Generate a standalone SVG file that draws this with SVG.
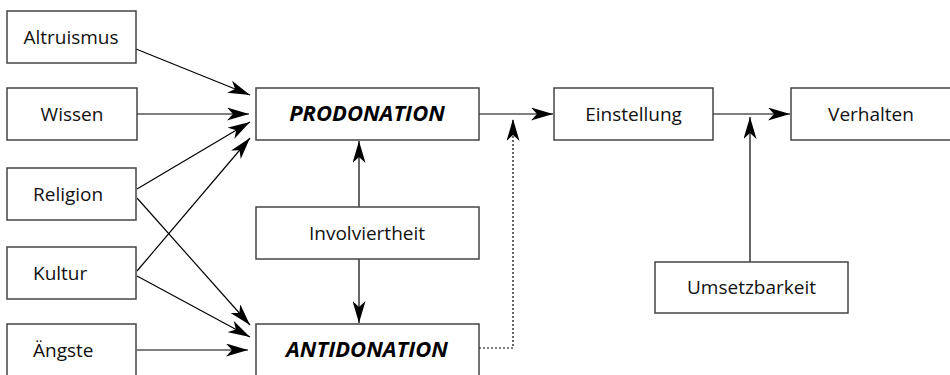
<svg xmlns="http://www.w3.org/2000/svg" width="950" height="375" viewBox="0 0 950 375">
<defs>
<style>
.box{fill:#fff;stroke:#444;stroke-width:1.5}
.t{font-family:"Open Sans","DejaVu Sans",sans-serif;font-size:19px;fill:#111}
.tb{font-family:"Open Sans","DejaVu Sans",sans-serif;font-size:22px;font-weight:bold;font-style:italic;fill:#000;text-anchor:middle}
.c{text-anchor:middle}
.ln{fill:none;stroke:#000;stroke-width:1.2;marker-end:url(#ah)}
.dot{fill:none;stroke:#000;stroke-width:1.2;stroke-dasharray:2 2;marker-end:url(#ah)}
</style>
<marker id="ah" markerUnits="userSpaceOnUse" markerWidth="22" markerHeight="13" refX="22" refY="6.5" orient="auto" viewBox="0 0 22 13">
<path d="M0,0 L22,6.5 L0,13 L6,6.5 z" fill="#000"/>
</marker>
</defs>
<rect width="950" height="375" fill="#fff"/>
<g id="connectors">
<line class="ln" x1="136" y1="49" x2="250" y2="95"/>
<line class="ln" x1="137" y1="114" x2="249" y2="114"/>
<line class="ln" x1="137" y1="189" x2="250" y2="122"/>
<line class="ln" x1="137" y1="271" x2="250" y2="138"/>
<line class="ln" x1="137" y1="198" x2="250" y2="325"/>
<line class="ln" x1="137" y1="276" x2="250" y2="337"/>
<line class="ln" x1="137" y1="350" x2="248" y2="350"/>
<line class="ln" x1="359" y1="207" x2="359" y2="141"/>
<line class="ln" x1="359" y1="259" x2="359" y2="323"/>
<line class="ln" x1="479" y1="114" x2="553" y2="114"/>
<path class="dot" d="M479,348 H513 V119"/>
<line class="ln" x1="713" y1="114" x2="790" y2="114"/>
<line class="ln" x1="750" y1="262" x2="750" y2="117"/>
</g>
<g id="altruismus"><rect class="box" x="7" y="11" width="129" height="52"/><text class="t c" x="71" y="44">Altruismus</text></g>
<g id="wissen"><rect class="box" x="7" y="88" width="130" height="52"/><text class="t c" x="72" y="121">Wissen</text></g>
<g id="religion"><rect class="box" x="7" y="168" width="129" height="52"/><text class="t" x="33" y="201">Religion</text></g>
<g id="kultur"><rect class="box" x="7" y="247" width="129" height="52"/><text class="t" x="33" y="280">Kultur</text></g>
<g id="aengste"><rect class="box" x="7" y="324" width="129" height="52"/><text class="t" x="33" y="357">Ängste</text></g>
<g id="prodonation"><rect class="box" x="256" y="88" width="223" height="52"/><text class="tb" x="367" y="121">PRODONATION</text></g>
<g id="involviertheit"><rect class="box" x="256" y="207" width="223" height="52"/><text class="t c" x="367" y="240">Involviertheit</text></g>
<g id="antidonation"><rect class="box" x="256" y="324" width="223" height="52"/><text class="tb" x="367" y="357">ANTIDONATION</text></g>
<g id="einstellung"><rect class="box" x="554" y="88" width="159" height="52"/><text class="t c" x="633.5" y="121">Einstellung</text></g>
<g id="verhalten"><rect class="box" x="791" y="88" width="165" height="52"/><text class="t c" x="871" y="121">Verhalten</text></g>
<g id="umsetzbarkeit"><rect class="box" x="655" y="262" width="193" height="51"/><text class="t c" x="751.5" y="294">Umsetzbarkeit</text></g>
</svg>
